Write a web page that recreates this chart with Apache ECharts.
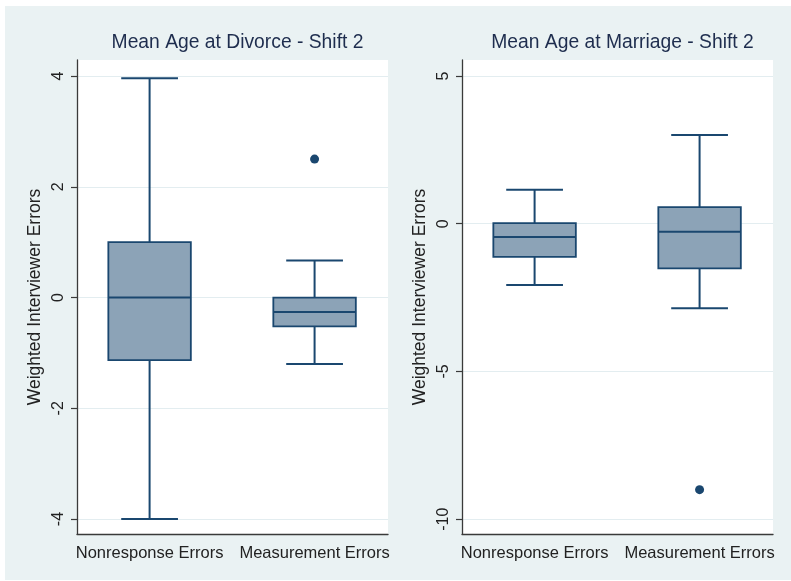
<!DOCTYPE html>
<html>
<head>
<meta charset="utf-8">
<script src="https://cdn.jsdelivr.net/npm/echarts@6/dist/echarts.min.js"></script>
<style>
html,body{margin:0;padding:0;background:#fff;}
#chart{width:791px;height:581px;background:linear-gradient(#EAF2F3,#EAF2F3) no-repeat 5px 6px / 786px 574px, #fff;}
</style>
</head>
<body>
<div id="chart"></div>
<script>
// ---- data ----
const categories = ['Nonresponse Errors', 'Measurement Errors'];
const titles = ['Mean Age at Divorce - Shift 2', 'Mean Age at Marriage - Shift 2'];
const yAxisName = 'Weighted Interviewer Errors';
// [min, Q1, median, Q3, max]
const divorceBoxes = [[-4.0, -1.13, 0.0, 1.0, 3.96], [-1.2, -0.52, -0.26, 0.0, 0.67]];
const divorceOutliers = [[1, 2.5]];
const marriageBoxes = [[-2.07, -1.12, -0.45, 0.02, 1.15], [-2.86, -1.51, -0.27, 0.56, 3.0]];
const marriageOutliers = [[1, -9.0]];
const divorceTicks = [-4, -2, 0, 2, 4];
const marriageTicks = [-10, -5, 0, 5];

const NAVY = '#1a476f';
const FILL = '#8CA3B7';
const FONT = 'Liberation Sans, Arial, sans-serif';

function boxData(boxes) {
  return boxes.map((b, i) => [i].concat(b));
}

function renderBox(params, api) {
  const x = api.value(0);
  const vmin = api.value(1), q1 = api.value(2), med = api.value(3), q3 = api.value(4), vmax = api.value(5);
  const half = 0.25, capHalf = 0.172;
  const pMin = api.coord([x, vmin]), pQ1 = api.coord([x, q1]), pMed = api.coord([x, med]);
  const pQ3 = api.coord([x, q3]), pMax = api.coord([x, vmax]);
  const xl = api.coord([x - half, 0])[0], xr = api.coord([x + half, 0])[0];
  const cl = api.coord([x - capHalf, 0])[0], cr = api.coord([x + capHalf, 0])[0];
  const ls = {stroke: NAVY, lineWidth: 2};
  return {
    type: 'group',
    children: [
      {type: 'line', shape: {x1: pQ3[0], y1: pQ3[1], x2: pMax[0], y2: pMax[1]}, style: ls},
      {type: 'line', shape: {x1: pQ1[0], y1: pQ1[1], x2: pMin[0], y2: pMin[1]}, style: ls},
      {type: 'line', shape: {x1: cl, y1: pMax[1], x2: cr, y2: pMax[1]}, style: ls},
      {type: 'line', shape: {x1: cl, y1: pMin[1], x2: cr, y2: pMin[1]}, style: ls},
      {type: 'rect', shape: {x: xl, y: pQ3[1], width: xr - xl, height: pQ1[1] - pQ3[1]},
        style: {fill: FILL, stroke: NAVY, lineWidth: 1.8}},
      {type: 'line', shape: {x1: xl, y1: pMed[1], x2: xr, y2: pMed[1]}, style: ls}
    ]
  };
}

function xAxisDef(idx) {
  return {
    type: 'value', gridIndex: idx, min: -0.44, max: 1.445,
    axisLine: {show: true, onZero: false, lineStyle: {color: '#3a3a3a', width: 1.3}},
    axisTick: {show: false},
    splitLine: {show: false},
    axisLabel: {
      customValues: [0, 1], margin: 11, color: '#222', fontSize: 16.5, fontFamily: FONT,
      formatter: v => categories[Math.round(v)]
    }
  };
}

function yAxisDef(idx, min, max, ticks) {
  return {
    type: 'value', gridIndex: idx, min: min, max: max,
    name: yAxisName, nameLocation: 'middle', nameGap: 33,
    nameTextStyle: {color: '#222', fontSize: 17.5, fontFamily: FONT},
    axisLine: {show: true, onZero: false, lineStyle: {color: '#3a3a3a', width: 1.3}},
    axisTick: {show: true, length: 6, customValues: ticks, lineStyle: {color: '#3a3a3a', width: 1.2}},
    splitLine: {show: true, lineStyle: {color: '#E3EDF0', width: 1}},
    axisLabel: {customValues: ticks, rotate: 90, margin: 10, color: '#222', fontSize: 16, fontFamily: FONT}
  };
}

const chart = echarts.init(document.getElementById('chart'), null, {renderer: 'canvas'});
chart.setOption({
  animation: false,
  backgroundColor: 'transparent',
  title: [
    {text: titles[0], left: 232.5, top: 28, textAlign: 'center',
      textStyle: {color: '#1e2d4e', fontSize: 19.3, fontWeight: 'normal', fontFamily: FONT}},
    {text: titles[1], left: 617.5, top: 28, textAlign: 'center',
      textStyle: {color: '#1e2d4e', fontSize: 19.3, fontWeight: 'normal', fontFamily: FONT}}
  ],
  grid: [
    {left: 77, right: 403, top: 60, bottom: 47, show: true, backgroundColor: '#fff', borderWidth: 0},
    {left: 462, right: 18, top: 60, bottom: 47, show: true, backgroundColor: '#fff', borderWidth: 0}
  ],
  xAxis: [xAxisDef(0), xAxisDef(1)],
  yAxis: [yAxisDef(0, -4.27, 4.29, divorceTicks), yAxisDef(1, -10.5, 5.54, marriageTicks)],
  series: [
    {type: 'custom', xAxisIndex: 0, yAxisIndex: 0, renderItem: renderBox,
      encode: {x: 0, y: [1, 2, 3, 4, 5]}, data: boxData(divorceBoxes)},
    {type: 'scatter', xAxisIndex: 0, yAxisIndex: 0, symbolSize: 9,
      itemStyle: {color: NAVY, opacity: 1}, data: divorceOutliers},
    {type: 'custom', xAxisIndex: 1, yAxisIndex: 1, renderItem: renderBox,
      encode: {x: 0, y: [1, 2, 3, 4, 5]}, data: boxData(marriageBoxes)},
    {type: 'scatter', xAxisIndex: 1, yAxisIndex: 1, symbolSize: 9,
      itemStyle: {color: NAVY, opacity: 1}, data: marriageOutliers}
  ]
});
</script>
</body>
</html>
